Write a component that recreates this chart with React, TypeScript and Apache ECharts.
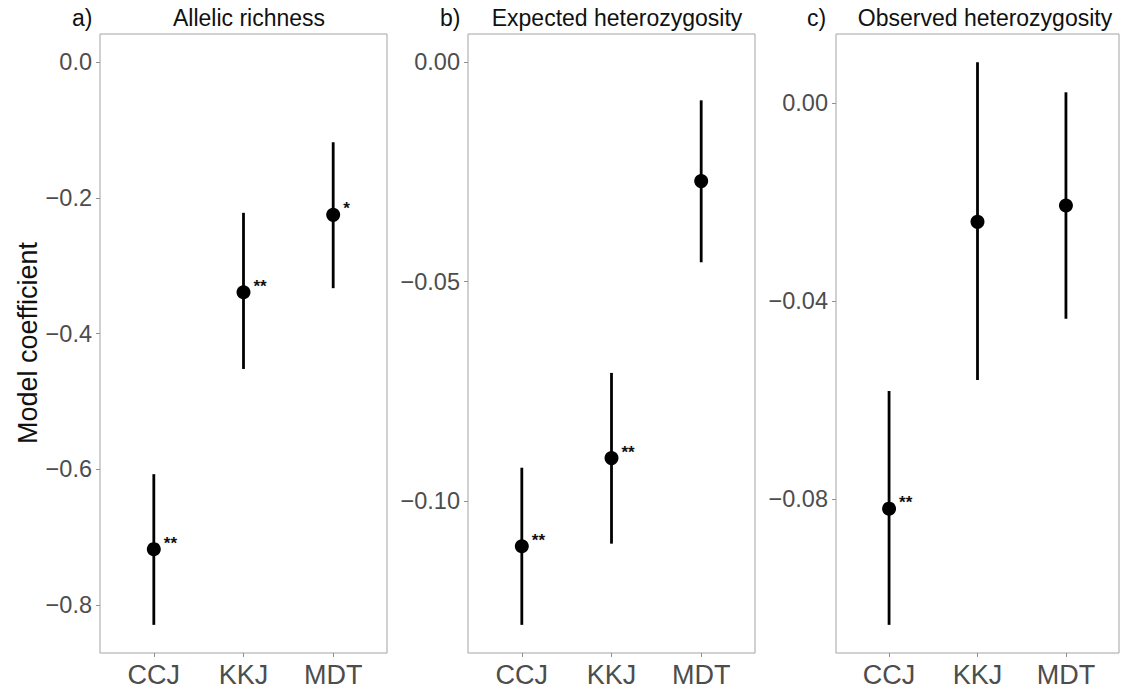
import React, { useEffect, useRef } from "react";
import * as echarts from "echarts";

const categories = ["CCJ", "KKJ", "MDT"];
const panelTags = ["a)", "b)", "c)"];
const panelTitles = ["Allelic richness", "Expected heterozygosity", "Observed heterozygosity"];
const yAxisTitle = "Model coefficient";

// a) Allelic richness
const arEstimate = [-0.7175, -0.339, -0.225];
const arLower = [-0.829, -0.452, -0.333];
const arUpper = [-0.607, -0.222, -0.118];
const arSig = ["**", "**", "*"];
const arTicks = [0, -0.2, -0.4, -0.6, -0.8];

// b) Expected heterozygosity
const heEstimate = [-0.1103, -0.0902, -0.0271];
const heLower = [-0.1282, -0.1097, -0.0456];
const heUpper = [-0.0924, -0.0708, -0.0087];
const heSig = ["**", "**", ""];
const heTicks = [0, -0.05, -0.1];

// c) Observed heterozygosity
const hoEstimate = [-0.082, -0.024, -0.0207];
const hoLower = [-0.1055, -0.056, -0.0436];
const hoUpper = [-0.0582, 0.0083, 0.0022];
const hoSig = ["**", "", ""];
const hoTicks = [0, -0.04, -0.08];

const FONT = "'Liberation Sans', Arial, Helvetica, sans-serif";
const BORDER = "#a3a3a3";
const TICKCOL = "#8f8f8f";
const LABELCOL = "#4d4d4d";

const panels = [
  { est: arEstimate, lo: arLower, hi: arUpper, sig: arSig, ticks: arTicks, dec: 1, left: 100, width: 287, tagX: 72, titleX: 249 },
  { est: heEstimate, lo: heLower, hi: heUpper, sig: heSig, ticks: heTicks, dec: 2, left: 468, width: 287, tagX: 440, titleX: 617 },
  { est: hoEstimate, lo: hoLower, hi: hoUpper, sig: hoSig, ticks: hoTicks, dec: 2, left: 836, width: 283, tagX: 807, titleX: 985 },
];

const fmt = (v: number, d: number) => {
  const s = Math.abs(v).toFixed(d);
  return v < -1e-12 ? "\u2212" + s : s;
};

export default function App() {
  const ref = useRef<HTMLDivElement>(null);

  useEffect(() => {
    document.documentElement.style.margin = "0";
    document.body.style.margin = "0";
    if (!ref.current) return;
    const chart = echarts.init(ref.current, null, { renderer: "svg" });

    const grids: any[] = [];
    const xAxes: any[] = [];
    const yAxes: any[] = [];
    const series: any[] = [];
    const graphics: any[] = [];

    panels.forEach((p, i) => {
      const lo = Math.min(0, ...p.lo);
      const hi = Math.max(0, ...p.hi);
      const r = hi - lo;
      grids.push({
        left: p.left,
        top: 34,
        width: p.width,
        height: 619,
        show: true,
        borderColor: BORDER,
        borderWidth: 1,
        backgroundColor: "#fff",
      });
      xAxes.push({
        type: "value",
        gridIndex: i,
        position: "bottom",
        min: 0.4,
        max: 3.6,
        axisLine: { show: false, onZero: false },
        splitLine: { show: false },
        axisTick: { show: true, length: 4, lineStyle: { color: TICKCOL, width: 1 }, customValues: [1, 2, 3] },
        axisLabel: {
          show: true,
          customValues: [1, 2, 3],
          margin: 8,
          fontSize: 27,
          fontFamily: FONT,
          color: LABELCOL,
          formatter: (v: number) => categories[Math.round(v) - 1] || "",
        },
      });
      yAxes.push({
        type: "value",
        gridIndex: i,
        position: "left",
        min: lo - 0.05 * r,
        max: hi + 0.05 * r,
        axisLine: { show: false, onZero: false },
        splitLine: { show: false },
        axisTick: { show: true, length: 4, lineStyle: { color: TICKCOL, width: 1 }, customValues: p.ticks },
        axisLabel: {
          show: true,
          customValues: p.ticks,
          margin: 8,
          fontSize: 23.5,
          fontFamily: FONT,
          color: LABELCOL,
          formatter: (v: number) => fmt(v, p.dec),
        },
      });
      series.push({
        type: "custom",
        xAxisIndex: i,
        yAxisIndex: i,
        data: categories.map((_, k) => [k + 1, p.lo[k], p.hi[k]]),
        encode: { x: 0, y: [1, 2] },
        renderItem: (_params: any, api: any) => {
          const x = api.value(0);
          const a = api.coord([x, api.value(1)]);
          const b = api.coord([x, api.value(2)]);
          return {
            type: "line",
            shape: { x1: a[0], y1: a[1], x2: b[0], y2: b[1] },
            style: { stroke: "#000", lineWidth: 2.8 },
          };
        },
        z: 2,
      });
      series.push({
        type: "scatter",
        xAxisIndex: i,
        yAxisIndex: i,
        data: categories.map((_, k) => [k + 1, p.est[k]]),
        symbol: "circle",
        symbolSize: 14,
        itemStyle: { color: "#000", opacity: 1 },
        label: {
          show: true,
          position: "right",
          distance: 3,
          offset: [0, -6],
          fontSize: 17,
          fontWeight: "bold",
          fontFamily: FONT,
          color: "#111",
          formatter: (pr: any) => p.sig[pr.dataIndex],
        },
        z: 3,
      });
      graphics.push({
        type: "text",
        x: p.tagX,
        y: 18,
        style: { text: panelTags[i], font: `23px ${FONT}`, fill: "#111", textAlign: "left", textVerticalAlign: "middle" },
      });
      graphics.push({
        type: "text",
        x: p.titleX,
        y: 18,
        style: { text: panelTitles[i], font: `23px ${FONT}`, fill: "#111", textAlign: "center", textVerticalAlign: "middle" },
      });
    });

    graphics.push({
      type: "text",
      x: 28,
      y: 343,
      rotation: Math.PI / 2,
      style: { text: yAxisTitle, font: `27px ${FONT}`, fill: "#111", textAlign: "center", textVerticalAlign: "middle" },
    });

    chart.setOption({
      animation: false,
      backgroundColor: "#fff",
      grid: grids,
      xAxis: xAxes,
      yAxis: yAxes,
      series,
      graphic: graphics,
    });

    return () => chart.dispose();
  }, []);

  return <div ref={ref} style={{ width: 1122, height: 690 }} />;
}
